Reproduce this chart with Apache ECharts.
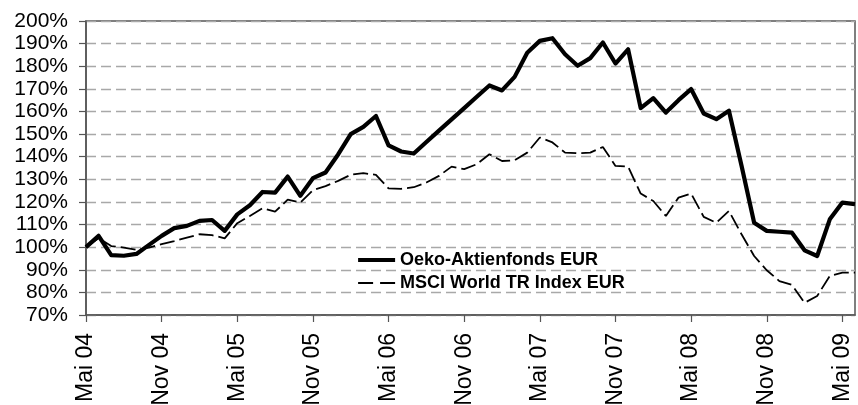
<!DOCTYPE html>
<html>
<head>
<meta charset="utf-8">
<script src="https://cdn.jsdelivr.net/npm/echarts@6/dist/echarts.min.js"></script>
<style>
html,body{margin:0;padding:0;background:#fff;}
#chart{width:858px;height:405px;}
</style>
</head>
<body>
<div id="chart"></div>
<script>
var months = [
 'Mai 04','Jun 04','Jul 04','Aug 04','Sep 04','Okt 04','Nov 04','Dez 04',
 'Jan 05','Feb 05','Mrz 05','Apr 05','Mai 05','Jun 05','Jul 05','Aug 05','Sep 05','Okt 05','Nov 05','Dez 05',
 'Jan 06','Feb 06','Mrz 06','Apr 06','Mai 06','Jun 06','Jul 06','Aug 06','Sep 06','Okt 06','Nov 06','Dez 06',
 'Jan 07','Feb 07','Mrz 07','Apr 07','Mai 07','Jun 07','Jul 07','Aug 07','Sep 07','Okt 07','Nov 07','Dez 07',
 'Jan 08','Feb 08','Mrz 08','Apr 08','Mai 08','Jun 08','Jul 08','Aug 08','Sep 08','Okt 08','Nov 08','Dez 08',
 'Jan 09','Feb 09','Mrz 09','Apr 09','Mai 09','Jun 09'
];
var oekoName = 'Oeko-Aktienfonds EUR';
var msciName = 'MSCI World TR Index EUR';
var oeko = [100, 105, 96.5, 96.2, 97, 101, 105, 108.4, 109.4, 111.6, 112, 107.2,
 114.5, 118.5, 124.4, 124.1, 131.2, 122.7, 130.5, 133, 141, 150, 153.2, 158,
 145, 142.3, 141.4, 146.5, 151.5, 156.5, 161.5, 166.5, 171.5, 169.3, 175.3, 186,
 191.2, 192.4, 185.3, 180.2, 183.6, 190.5, 181.2, 187.5, 161.5, 165.9, 159.5, 165,
 169.9, 159.1, 156.6, 160.3, 136, 110.8, 107.2, 106.8, 106.4, 98.6, 96.1, 112.3,
 119.7, 119];
var msci = [100, 104, 100.5, 99.8, 98.8, 99.8, 101.3, 102.7, 104.2, 105.7, 105.3, 103.9,
 110.6, 113.8, 117.2, 115.7, 121, 119.7, 125.2, 127, 129.3, 132, 132.7, 132,
 126, 125.8, 126.5, 128.6, 131.5, 135.6, 134.5, 136.7, 141.1, 138.1, 138.4, 141.8,
 148.5, 146.3, 141.8, 141.5, 141.8, 144.3, 135.9, 135.6, 123.7, 120.4, 113.8, 121.9,
 123.7, 113.4, 110.8, 116, 105.7, 96.1, 89.8, 85, 83.3, 75.4, 78.4, 87.3,
 88.7, 88.7];
var yMin = 70, yMax = 200, yStep = 10;

var font = '"Liberation Sans", Arial, sans-serif';
var chart = echarts.init(document.getElementById('chart'), null, {renderer: 'canvas'});
chart.setOption({
  animation: false,
  backgroundColor: '#fff',
  grid: {left: 86, right: 3, top: 21, bottom: 90, show: true, borderColor: '#555', borderWidth: 1.5,
         containLabel: false, outerBoundsMode: 'none'},
  legend: {
    orient: 'vertical', left: 351, top: 246, itemWidth: 37, itemHeight: 14, itemGap: 5,
    textStyle: {fontFamily: font, fontSize: 18, fontWeight: 'bold', color: '#000', lineHeight: 18},
    itemStyle: {color: 'rgba(0,0,0,0)', borderWidth: 0, opacity: 0},
    data: [
      {name: oekoName, lineStyle: {color: '#000', width: 4.2}},
      {name: msciName, lineStyle: {color: '#000', width: 1.8, type: [15, 7]}}
    ]
  },
  xAxis: {
    type: 'category', data: months, boundaryGap: false,
    axisLine: {lineStyle: {color: '#555', width: 1.5}},
    axisTick: {show: true, interval: 5, length: 7, lineStyle: {color: '#555', width: 1.2}},
    axisLabel: {interval: 5, rotate: 90, margin: 18, fontFamily: font, fontSize: 23, color: '#000'},
    splitLine: {show: false}
  },
  yAxis: {
    type: 'value', min: yMin, max: yMax, interval: yStep,
    axisLine: {show: true, lineStyle: {color: '#555', width: 1.5}},
    axisTick: {show: true, length: 7, lineStyle: {color: '#555', width: 1.2}},
    axisLabel: {formatter: '{value}%', margin: 18, fontFamily: font, fontSize: 21, color: '#000'},
    splitLine: {show: true, lineStyle: {color: '#a8a8a8', width: 1.3, type: [10, 5]}}
  },
  series: [
    {name: oekoName, type: 'line', data: oeko, symbol: 'none', z: 3,
     lineStyle: {color: '#000', width: 4.2, join: 'round'}, itemStyle: {color: '#000'}},
    {name: msciName, type: 'line', data: msci, symbol: 'none', z: 2,
     lineStyle: {color: '#000', width: 1.8, type: [15, 5]}, itemStyle: {color: '#000'}}
  ]
});
</script>
</body>
</html>
